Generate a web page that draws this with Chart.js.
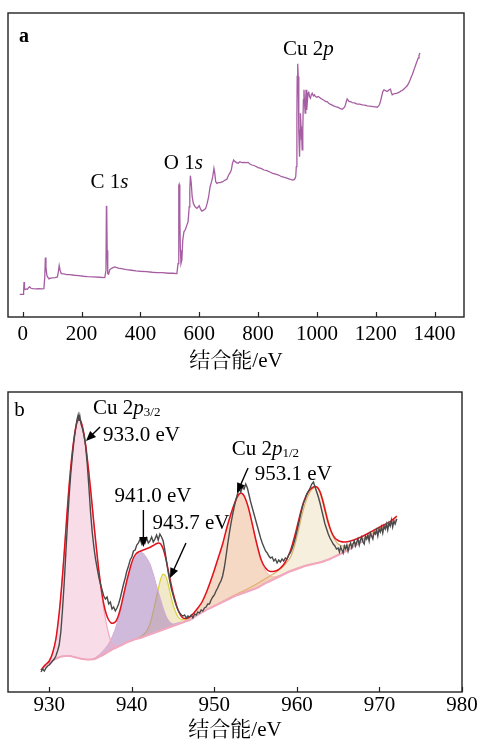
<!DOCTYPE html>
<html><head><meta charset="utf-8">
<script src="https://cdn.jsdelivr.net/npm/chart.js@4.4.1/dist/chart.umd.min.js"></script>
<style>
html,body{margin:0;padding:0;background:#fff;width:477px;height:743px;overflow:hidden}
#wa{position:absolute;left:0;top:0;width:477px;height:375px}
#wb{position:absolute;left:0;top:375px;width:477px;height:370px}
canvas{display:block}
</style></head><body>
<div id="wa"><canvas id="ca" width="477" height="375"></canvas></div>
<div id="wb"><canvas id="cb" width="477" height="370"></canvas></div>
<script>
// ---------- DATA ----------
const surveyTicks = [0,200,400,600,800,1000,1200,1400];
const hrTicks = [930,940,950,960,970,980];
const xTitle = '结合能/eV';

// Panel a: survey spectrum [binding energy eV, intensity a.u.]
const survey = [[-10,68],[1,68],[3,75],[4.5,105],[6,86],[8,82],[12,84],[16,83],[20,88],[24,90],[28,86],[35,85],[45,84],[55,85],[65,84],[72,85],[75,120],[77,178],[79,150],[82,125],[86,118],[89,115],[100,117],[110,118],[118,120],[121,135],[124,154],[127,140],[131,130],[140,129],[149,127],[160,127],[175,125],[190,124],[206,122],[220,121],[240,120],[260,119],[279,118],[283,140],[284.5,330],[285.5,333],[287,200],[289,130],[292,128],[296,142],[305,147],[313,150],[325,146],[340,144],[353,142],[370,140],[385,138],[399,137],[420,136],[440,134],[455,133],[475,133],[495,131],[510,131],[524,130],[528,160],[530.5,395],[531.5,397],[534,300],[536,200],[538,160],[541,170],[544,230],[548,255],[553,262],[558,275],[562,285],[566,330],[568,380],[570,423],[573,400],[576,360],[580,340],[586,330],[592,325],[597,330],[600,333],[605,322],[609,317],[615,320],[622,325],[627,340],[632,360],[637,390],[642,405],[646,420],[650,445],[653,430],[656,405],[660,400],[665,402],[671,402],[680,405],[688,410],[694,412],[700,425],[705,432],[709,440],[713,460],[717,470],[722,465],[727,462],[732,460],[738,465],[745,462],[752,463],[760,462],[766,463],[772,458],[780,455],[790,452],[800,447],[810,445],[820,440],[830,438],[840,434],[850,430],[860,428],[870,425],[880,420],[890,418],[900,415],[910,412],[918,410],[924,412],[928,420],[930,450],[932,600],[933,720],[934,757],[935.5,758],[936.5,720],[938,600],[939,550],[941,480],[943,560],[944,610],[946,570],[947,530],[948,560],[950,500],[952,560],[954,650],[956,680],[958,640],[960,610],[962,650],[963,680],[965,640],[966,620],[968,650],[970,670],[972,675],[975,660],[978,655],[981,665],[984,670],[988,662],[992,665],[995,660],[1000,658],[1005,660],[1012,655],[1018,652],[1025,648],[1030,645],[1035,645],[1040,640],[1045,637],[1050,635],[1057,632],[1063,630],[1070,628],[1077,625],[1082,623],[1086,622],[1090,625],[1094,628],[1097,635],[1100,645],[1103,653],[1107,648],[1110,645],[1114,645],[1120,642],[1128,641],[1137,637],[1145,637],[1155,635],[1163,634],[1171,632],[1180,631],[1190,630],[1198,629],[1205,628],[1210,632],[1213,637],[1216,645],[1220,660],[1224,675],[1228,680],[1232,678],[1236,676],[1239,675],[1243,678],[1247,681],[1250,682],[1253,672],[1256,665],[1260,667],[1265,669],[1273,670],[1280,673],[1285,676],[1290,678],[1295,682],[1300,686],[1307,692],[1312,700],[1317,710],[1320,717],[1324,725],[1328,735],[1332,745],[1336,755],[1340,765],[1344,775],[1347,783],[1350,790]];

// Panel b: Cu 2p high-resolution spectrum
const rawData = [[929.0,20],[929.2,23],[929.4,21],[929.6,24],[929.8,26],[930.0,27],[930.2,29],[930.4,31],[930.6,33],[930.8,36],[931.0,41],[931.2,47],[931.4,60],[931.6,82],[931.8,108],[932.0,138],[932.2,168],[932.4,195],[932.6,218],[932.8,236],[933.0,252],[933.2,264],[933.35,272],[933.5,277],[933.6,271],[933.7,276],[933.85,268],[934.0,264],[934.2,257],[934.4,246],[934.6,228],[934.8,205],[935.0,180],[935.2,160],[935.4,145],[935.6,133],[935.8,124],[936.0,115],[936.2,108],[936.4,102],[936.6,96],[936.8,93],[937.0,95],[937.2,88],[937.4,90],[937.6,83],[937.8,85],[938.0,81],[938.2,84],[938.4,88],[938.6,94],[938.8,101],[939.0,108],[939.2,114],[939.4,121],[939.6,126],[939.8,132],[940.0,135],[940.2,141],[940.4,142],[940.6,147],[940.8,149],[941.0,153],[941.2,148],[941.4,152],[941.6,149],[941.8,154],[942.0,149],[942.2,151],[942.4,155],[942.6,150],[942.8,153],[943.0,157],[943.2,152],[943.4,158],[943.6,155],[943.8,151],[944.0,142],[944.2,131],[944.4,120],[944.6,111],[944.8,103],[945.0,97],[945.2,91],[945.4,86],[945.6,82],[945.8,79],[946.0,77],[946.2,76],[946.4,77],[946.6,74],[946.8,76],[947.0,75],[947.2,77],[947.4,74],[947.6,78],[947.8,77],[948.0,80],[948.2,79],[948.4,82],[948.6,81],[948.8,84],[949.0,85],[949.2,88],[949.4,88],[949.6,92],[949.8,95],[950.0,97],[950.2,101],[950.4,104],[950.6,108],[950.8,111],[951.0,116],[951.2,124],[951.4,135],[951.6,147],[951.8,158],[952.0,168],[952.2,177],[952.4,185],[952.6,192],[952.8,198],[953.0,203],[953.2,200],[953.4,205],[953.6,203],[953.8,208],[954.0,204],[954.2,197],[954.4,190],[954.6,184],[954.8,178],[955.0,172],[955.2,166],[955.4,160],[955.6,154],[955.8,149],[956.0,145],[956.2,141],[956.4,139],[956.6,136],[956.8,134],[957.0,135],[957.2,131],[957.4,133],[957.6,129],[957.8,132],[958.0,130],[958.2,133],[958.4,131],[958.6,134],[958.8,133],[959.0,137],[959.2,139],[959.4,143],[959.6,148],[959.8,154],[960.0,161],[960.2,168],[960.4,176],[960.6,183],[960.8,189],[961.0,193],[961.2,198],[961.4,201],[961.6,204],[961.8,208],[962.0,210],[962.2,205],[962.4,200],[962.6,195],[962.8,189],[963.0,182],[963.2,175],[963.4,168],[963.6,163],[963.8,158],[964.0,154],[964.2,151],[964.4,148],[964.6,146],[964.8,143],[965.0,144],[965.15,140],[965.3,145],[965.45,142],[965.6,139],[965.75,146],[965.9,143],[966.05,147],[966.2,141],[966.35,146],[966.5,149],[966.65,144],[966.8,148],[966.95,151],[967.1,146],[967.25,150],[967.4,153],[967.55,147],[967.7,152],[967.85,155],[968.0,150],[968.15,148],[968.3,156],[968.45,153],[968.6,157],[968.75,151],[968.9,159],[969.05,156],[969.2,153],[969.35,160],[969.5,158],[969.65,162],[969.8,156],[969.95,163],[970.1,160],[970.25,165],[970.4,159],[970.55,166],[970.7,163],[970.85,168],[971.0,162],[971.15,169],[971.3,166],[971.45,172],[971.6,165],[971.75,171],[971.9,168],[972.1,173]];

const fitData = [[929.0,22],[929.5,27],[930.0,31],[930.4,39],[930.8,53],[931.2,79],[931.5,106],[931.8,138],[932.1,173],[932.4,206],[932.7,233],[933.0,254],[933.3,268],[933.6,273],[933.9,269],[934.2,258],[934.5,241],[934.8,219],[935.1,195],[935.4,169],[935.7,145],[936.0,122],[936.3,103],[936.6,88],[936.9,78],[937.2,72],[937.5,69],[937.8,69],[938.1,71],[938.4,77],[938.7,86],[939.0,97],[939.3,108],[939.6,118],[939.9,127],[940.2,134],[940.5,138],[940.8,140],[941.1,141],[941.4,142],[941.7,143],[942.0,144],[942.3,145],[942.6,146.5],[942.9,148],[943.2,149],[943.5,148],[943.8,143],[944.1,134],[944.4,122],[944.7,110],[945.0,99],[945.3,90],[945.6,82],[945.9,77],[946.2,74],[946.5,73.5],[946.8,74],[947.1,75.5],[947.5,79],[948.0,84],[948.5,90],[949.0,99],[949.5,110],[950.0,122],[950.5,135],[951.0,148],[951.5,164],[952.0,178],[952.5,190],[952.9,197],[953.2,199],[953.5,197.5],[953.8,192.5],[954.1,185],[954.4,175],[954.7,164],[955.0,153],[955.3,143],[955.6,134],[955.9,128],[956.2,124],[956.5,121.5],[956.8,120.5],[957.1,120.5],[957.4,121],[957.7,122],[958.0,124],[958.3,126.5],[958.6,130],[958.9,135],[959.2,141],[959.5,149],[959.8,158],[960.1,168],[960.4,178],[960.7,187],[961.0,194],[961.3,199],[961.6,202.5],[961.9,204.5],[962.2,205.5],[962.5,204.5],[962.8,200],[963.1,192],[963.4,182],[963.7,172],[964.0,164],[964.3,158],[964.6,154],[964.9,152],[965.3,150.5],[965.8,150],[966.5,151],[967.5,154],[968.5,158],[969.5,162.5],[970.5,167],[971.3,170.5],[972.1,176]];

const bgData = [[929.0,22],[929.5,26],[930.0,29],[930.5,32],[931.0,34],[931.5,35.5],[932.0,36],[932.5,36],[933.0,35],[933.5,34],[934.0,33],[934.5,32.5],[935.0,32.5],[935.5,33],[936.0,35],[936.5,37],[937.0,39.5],[937.5,42],[938.0,44],[938.5,46],[939.0,48],[939.5,50],[940.0,51.5],[940.5,53],[941.0,54],[941.5,55.5],[942.0,57],[942.5,58.5],[943.0,60],[943.5,61.5],[944.0,63],[944.5,64.5],[945.0,66],[945.5,67.5],[946.0,69],[946.5,70.5],[947.0,72],[947.5,74.5],[948.0,77],[948.5,79.5],[949.0,82],[949.5,84],[950.0,86],[950.5,88],[951.0,90],[951.5,92],[952.0,94],[952.5,96],[953.0,97.5],[953.5,99],[954.0,100.5],[954.5,102],[955.0,103.5],[955.5,105.5],[956.0,108],[956.5,110],[957.0,112],[957.5,114],[958.0,116],[958.5,118],[959.0,120],[959.5,121.5],[960.0,123],[960.5,124.5],[961.0,126],[961.5,127],[962.0,128],[962.5,129],[963.0,130],[963.5,131.5],[964.0,133],[964.5,135],[965.0,137],[965.5,139],[966.0,141],[966.5,143.5],[967.0,146],[967.5,148.5],[968.0,151],[968.5,153.5],[969.0,156],[969.5,158.5],[970.0,161],[970.5,163.5],[971.0,166],[971.5,169.5],[972.1,173]];

const peak933 = [[929.0,22],[929.5,27],[930.0,31],[930.4,38],[930.8,52],[931.2,78],[931.5,105],[931.8,137],[932.1,172],[932.4,205],[932.7,232],[933.0,253],[933.3,267],[933.6,272],[933.9,268],[934.2,257],[934.5,240],[934.8,218],[935.1,194],[935.4,168],[935.7,143],[936.0,120],[936.3,100],[936.6,83],[936.9,69],[937.2,58],[937.5,50],[937.8,46],[938.2,45.5],[938.6,46.5],[939.0,48]];
const peak941 = [[935.0,32.5],[935.5,34],[936.0,37],[936.5,41],[937.0,46],[937.5,53],[938.0,63],[938.5,77],[939.0,94],[939.5,112],[940.0,126],[940.4,134],[940.8,138.5],[941.1,139.5],[941.4,138.5],[941.8,134],[942.2,128],[942.6,118],[943.0,106],[943.4,95],[943.8,84],[944.2,75],[944.6,70],[945.0,68],[945.5,69],[946.0,70]];
const peak943 = [[940.5,53],[941.0,55],[941.5,58],[942.0,64],[942.4,74],[942.8,88],[943.2,103],[943.5,113],[943.8,118],[944.1,116],[944.4,108],[944.7,97],[945.0,87],[945.3,80],[945.6,75],[946.0,72.5],[946.5,73],[947.0,74.5]];
const peak953 = [[945.5,67.5],[946.0,69.5],[946.5,72],[947.0,74.5],[947.5,78],[948.0,83],[948.5,89],[949.0,98],[949.5,109],[950.0,121],[950.5,134],[951.0,147],[951.5,163],[952.0,177],[952.5,189],[952.9,196],[953.2,198],[953.5,196.5],[953.8,191.5],[954.1,184],[954.4,174],[954.7,163],[955.0,151.5],[955.3,141],[955.6,132],[955.9,125.5],[956.2,121],[956.5,118],[956.8,116],[957.1,115],[957.5,115.5],[958.0,117],[958.5,119],[959.0,121],[959.5,122.5],[960.0,124],[961.0,126.8],[962.0,128.6],[963.0,130.5],[964.0,133.5],[965.0,137.3],[966.0,141.2]];
const peak962 = [[929.0,22],[929.5,26],[930.0,29],[930.5,32],[931.0,34],[931.5,35.5],[932.0,36],[932.5,36],[933.0,35],[933.5,34],[934.0,33],[934.5,32.5],[935.0,32.5],[935.5,33],[936.0,35],[936.5,37],[937.0,39.5],[937.3,null],[950.5,88],[951.0,90.5],[952.0,95],[953.0,99],[954.0,103],[955.0,107.5],[956.0,112.5],[957.0,117.5],[957.5,120],[958.0,123],[958.5,127],[959.0,132],[959.3,136],[959.6,143],[959.9,152],[960.2,162],[960.5,173],[960.8,183],[961.1,191],[961.4,197],[961.7,201.5],[962.0,204],[962.3,205],[962.6,203.5],[962.9,199],[963.2,191],[963.5,181],[963.8,171],[964.1,162],[964.4,155.5],[964.7,151],[965.0,148],[965.5,146],[966.0,146.5],[966.5,147.5],[967.0,149],[967.5,151],[968.0,153],[968.5,155.5],[969.0,158],[969.5,160.5],[970.0,163],[970.5,165.5],[971.0,168],[971.5,171],[972.1,175]];

// ---------- STYLE / HELPERS ----------
const SERIF = '"Liberation Serif","Times New Roman","Noto Serif CJK SC","Noto Sans CJK SC",serif';
const xy = a => a.map(p => ({x: p[0], y: p[1]}));
Chart.defaults.animation = false;
Chart.defaults.devicePixelRatio = 1;

function drawRich(ctx, parts, x, y, align) {
  ctx.textBaseline = 'middle';
  ctx.textAlign = 'left';
  const fnt = p => `${p.i ? 'italic ' : ''}${p.b ? 'bold ' : ''}${p.s || 21}px ${SERIF}`;
  let w = 0;
  parts.forEach(p => { ctx.font = fnt(p); w += ctx.measureText(p.t).width; });
  let cx = align === 'center' ? x - w / 2 : x;
  parts.forEach(p => { ctx.font = fnt(p); ctx.fillText(p.t, cx, y + (p.dy || 0)); cx += ctx.measureText(p.t).width; });
}
function drawArrow(ctx, x1, y1, x2, y2) {
  const ang = Math.atan2(y2 - y1, x2 - x1), L = 10, W = 4.2;
  const bx = x2 - L * Math.cos(ang), by = y2 - L * Math.sin(ang);
  ctx.strokeStyle = '#000'; ctx.fillStyle = '#000'; ctx.lineWidth = 1.4;
  ctx.beginPath(); ctx.moveTo(x1, y1); ctx.lineTo(bx + 2 * Math.cos(ang), by + 2 * Math.sin(ang)); ctx.stroke();
  ctx.beginPath(); ctx.moveTo(x2, y2);
  ctx.lineTo(bx + W * Math.sin(ang), by - W * Math.cos(ang));
  ctx.lineTo(bx - W * Math.sin(ang), by + W * Math.cos(ang));
  ctx.closePath(); ctx.fill();
}
function framePlugin(ticks, labels, arrows) {
  return { id: 'frame', afterDraw(chart) {
    const ctx = chart.ctx, a = chart.chartArea, xs = chart.scales.x, ys = chart.scales.y;
    ctx.save();
    ctx.strokeStyle = '#222'; ctx.lineWidth = 1.4;
    ctx.strokeRect(a.left, a.top, a.right - a.left, a.bottom - a.top);
    ctx.lineWidth = 1.2;
    ticks.forEach(v => { const px = Math.round(xs.getPixelForValue(v)) + 0.5;
      ctx.beginPath(); ctx.moveTo(px, a.bottom); ctx.lineTo(px, a.bottom - 5); ctx.stroke(); });
    ctx.fillStyle = '#000';
    labels.forEach(l => drawRich(ctx, l.parts, xs.getPixelForValue(l.x), ys.getPixelForValue(l.y), l.align));
    arrows.forEach(r => drawArrow(ctx, xs.getPixelForValue(r[0]), ys.getPixelForValue(r[1]), xs.getPixelForValue(r[2]), ys.getPixelForValue(r[3])));
    ctx.restore();
  }};
}
function xAxis(min, max, ticks, tickPad, titlePad, h) {
  return {
    type: 'linear', position: 'bottom', min, max,
    afterBuildTicks: s => { s.ticks = ticks.map(v => ({value: v})); },
    afterFit: s => { s.height = h; s.paddingLeft = 0; s.paddingRight = 0; },
    grid: {display: false, drawTicks: false}, border: {display: false},
    ticks: {color: '#000', padding: tickPad, maxRotation: 0, autoSkip: false, font: {family: SERIF, size: 21},
            callback: v => String(v)},
    title: {display: true, text: xTitle, color: '#000', padding: {top: 0, bottom: titlePad}, font: {family: SERIF, size: 21}}
  };
}

// ---------- PANEL A ----------
const labelsA = [
  {x: 4, y: 840, align: 'center', parts: [{t: 'a', b: true, s: 20}]},
  {x: 295, y: 402, align: 'center', parts: [{t: 'C 1'}, {t: 's', i: true}]},
  {x: 546, y: 461, align: 'center', parts: [{t: 'O 1'}, {t: 's', i: true}]},
  {x: 971, y: 802, align: 'center', parts: [{t: 'Cu 2'}, {t: 'p', i: true}]}
];
new Chart(document.getElementById('ca'), {
  type: 'line',
  data: {datasets: [{data: xy(survey), borderColor: '#a65ea2', borderWidth: 1.3, pointRadius: 0, tension: 0, fill: false}]},
  options: {
    responsive: false, animation: false, events: [],
    layout: {padding: {left: 8, right: 13, top: 13, bottom: 0}},
    plugins: {legend: {display: false}, tooltip: {enabled: false}},
    scales: {x: xAxis(-50, 1500, surveyTicks, 5, 1, 58), y: {display: false, min: 0, max: 910}}
  },
  plugins: [framePlugin(surveyTicks, labelsA, [])]
});

// ---------- PANEL B ----------
const labelsB = [
  {x: 926.4, y: 282, align: 'center', parts: [{t: 'b', s: 21}]},
  {x: 935.3, y: 284, align: 'left', parts: [{t: 'Cu 2'}, {t: 'p', i: true}, {t: '3/2', s: 13, dy: 5}]},
  {x: 936.5, y: 257, align: 'left', parts: [{t: '933.0 eV'}]},
  {x: 937.9, y: 196, align: 'left', parts: [{t: '941.0 eV'}]},
  {x: 942.5, y: 169, align: 'left', parts: [{t: '943.7 eV'}]},
  {x: 952.1, y: 243, align: 'left', parts: [{t: 'Cu 2'}, {t: 'p', i: true}, {t: '1/2', s: 13, dy: 5}]},
  {x: 954.9, y: 218, align: 'left', parts: [{t: '953.1 eV'}]}
];
const arrowsB = [
  [936.15, 265, 934.45, 251],
  [941.4, 182, 941.4, 145],
  [946.56, 149, 944.63, 114],
  [954.08, 224, 952.74, 199]
];
const comp = (d, line, fillc, w) => ({data: xy(d), borderColor: line, backgroundColor: fillc, borderWidth: w, pointRadius: 0, tension: 0.2, fill: {target: 2}, spanGaps: false});
new Chart(document.getElementById('cb'), {
  type: 'line',
  data: {datasets: [
    {data: xy(rawData), borderColor: '#4a4a4a', borderWidth: 1.4, pointRadius: 0, tension: 0, fill: false},
    {data: xy(fitData), borderColor: '#e2121c', borderWidth: 1.5, pointRadius: 0, tension: 0.3, fill: false},
    {data: xy(bgData), borderColor: '#f1a7be', borderWidth: 2, pointRadius: 0, tension: 0.3, fill: false},
    comp(peak933, '#f2a9c0', 'rgba(238,170,200,0.40)', 1.2),
    comp(peak941, '#cfaad8', 'rgba(170,130,190,0.55)', 1),
    comp(peak943, '#d8d240', 'rgba(220,200,120,0.40)', 1.2),
    comp(peak953, '#f1b3a3', 'rgba(235,170,125,0.45)', 1),
    comp(peak962, '#d6b26c', 'rgba(235,215,170,0.40)', 1.2)
  ]},
  options: {
    responsive: false, animation: false, events: [],
    layout: {padding: {left: 8, right: 15, top: 17, bottom: 0}},
    plugins: {legend: {display: false}, tooltip: {enabled: false}},
    scales: {x: xAxis(925, 980, hrTicks, 1, 2, 53), y: {display: false, min: 0, max: 300}}
  },
  plugins: [framePlugin(hrTicks, labelsB, arrowsB)]
});
</script>
</body></html>
